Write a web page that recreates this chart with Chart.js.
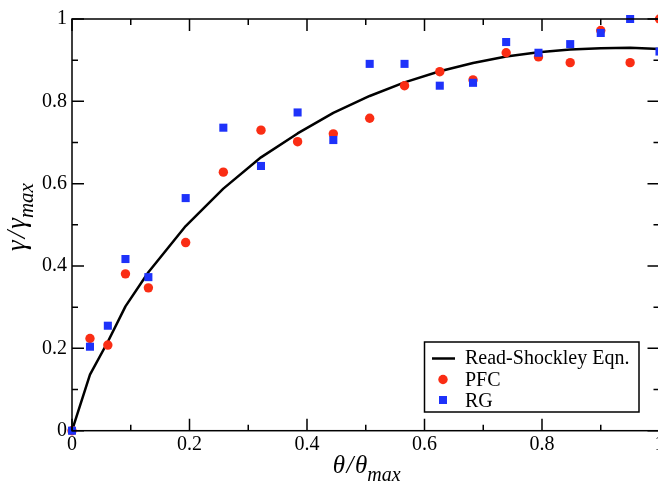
<!DOCTYPE html>
<html>
<head>
<meta charset="utf-8">
<script src="https://cdn.jsdelivr.net/npm/chart.js@4/dist/chart.umd.min.js"></script>
<style>
  html, body { margin: 0; padding: 0; background: #fff; overflow: hidden; }
  #wrap { width: 680px; height: 483px; }
</style>
</head>
<body>
<div id="wrap"><canvas id="chart" width="680" height="483"></canvas></div>
<script>
const thetaPFC = [0, 0.0306, 0.061, 0.091, 0.13, 0.1935, 0.2576, 0.3217, 0.384, 0.4448, 0.5067, 0.566, 0.626, 0.6826, 0.739, 0.794, 0.848, 0.9, 0.95, 1.0];
const gammaPFC = [0, 0.224, 0.208, 0.381, 0.347, 0.457, 0.628, 0.730, 0.702, 0.721, 0.759, 0.838, 0.872, 0.852, 0.918, 0.908, 0.894, 0.972, 0.894, 1.0];

const thetaRG = [0, 0.0306, 0.061, 0.091, 0.13, 0.1935, 0.2576, 0.3217, 0.384, 0.4448, 0.5067, 0.566, 0.626, 0.6826, 0.739, 0.794, 0.848, 0.9, 0.95, 1.0];
const gammaRG = [0, 0.204, 0.255, 0.417, 0.373, 0.565, 0.736, 0.643, 0.773, 0.706, 0.891, 0.891, 0.838, 0.845, 0.944, 0.918, 0.939, 0.966, 1.0, 0.921];

// Read-Shockley curve
const thetaRS = [0, 0.0306, 0.061, 0.091, 0.13, 0.1935, 0.2576, 0.3217, 0.384, 0.4448, 0.5067, 0.566, 0.626, 0.6826, 0.739, 0.794, 0.848, 0.9, 0.95, 1.0];
const gammaRS = [0, 0.136, 0.216, 0.302, 0.385, 0.497, 0.588, 0.664, 0.722, 0.772, 0.813, 0.846, 0.873, 0.893, 0.909, 0.919, 0.926, 0.929, 0.930, 0.927];

const majorTicks = [0, 0.2, 0.4, 0.6, 0.8, 1];
const minorTicks = [0.1, 0.3, 0.5, 0.7, 0.9];
const legendLabels = ['Read-Shockley Eqn.', 'PFC', 'RG'];

const RED = '#fa2d14';
const BLUE = '#1e32fa';
const SERIF = '"Liberation Serif", "Times New Roman", serif';

const toXY = (xs, ys) => xs.map((x, i) => ({ x: x, y: ys[i] }));

// frame box + inward ticks on all four sides
const frameTicks = {
    id: 'frameTicks',
    afterDatasetsDraw(chart) {
        const { ctx, chartArea: a, scales: { x, y } } = chart;
        ctx.save();
        ctx.strokeStyle = '#000';
        ctx.lineWidth = 1.5;
        ctx.strokeRect(a.left, a.top, a.right - a.left, a.bottom - a.top);
        const tick = (vals, len) => {
            ctx.beginPath();
            vals.forEach(v => {
                const px = x.getPixelForValue(v);
                ctx.moveTo(px, a.bottom); ctx.lineTo(px, a.bottom - len);
                ctx.moveTo(px, a.top); ctx.lineTo(px, a.top + len);
                const py = y.getPixelForValue(v);
                ctx.moveTo(a.left, py); ctx.lineTo(a.left + len, py);
                ctx.moveTo(a.right, py); ctx.lineTo(a.right - len, py);
            });
            ctx.stroke();
        };
        tick(majorTicks, 12);
        tick(minorTicks, 6);
        ctx.restore();
    }
};

// "g / g" + subscript "max", centred on the current origin
function drawRatio(ctx, g, sub, mainFont, subFont, gap, subDrop) {
    ctx.font = mainFont;
    const wg = ctx.measureText(g).width;
    const ws = ctx.measureText('/').width;
    ctx.font = subFont;
    const wsub = ctx.measureText(sub).width;
    const total = wg * 2 + ws + gap * 2 + wsub;
    let x0 = -total / 2;
    ctx.font = mainFont;
    ctx.fillText(g, x0, 0); x0 += wg + gap;
    ctx.fillText('/', x0, 0); x0 += ws + gap;
    ctx.fillText(g, x0, 0); x0 += wg;
    ctx.font = subFont;
    ctx.fillText(sub, x0, subDrop);
}

const axisTitles = {
    id: 'axisTitles',
    afterDraw(chart) {
        const { ctx, chartArea: a } = chart;
        ctx.save();
        ctx.fillStyle = '#000';
        ctx.textBaseline = 'alphabetic';
        ctx.textAlign = 'left';
        ctx.translate((a.left + a.right) / 2 + 1, 473);
        drawRatio(ctx, 'θ', 'max', 'italic 25px ' + SERIF, 'italic 20px ' + SERIF, 1.5, 8);
        ctx.restore();

        ctx.save();
        ctx.fillStyle = '#000';
        ctx.textBaseline = 'alphabetic';
        ctx.textAlign = 'left';
        ctx.translate(25, 217);
        ctx.rotate(-Math.PI / 2);
        drawRatio(ctx, 'γ', 'max', 'italic 27px ' + SERIF, 'italic 21px ' + SERIF, 2, 8);
        ctx.restore();
    }
};

// boxed legend inside the plot, lower right
const boxLegend = {
    id: 'boxLegend',
    afterDraw(chart) {
        const { ctx } = chart;
        const bx = 424.5, by = 342, bw = 214.5, bh = 70;
        ctx.save();
        ctx.fillStyle = '#fff';
        ctx.fillRect(bx, by, bw, bh);
        ctx.strokeStyle = '#000';
        ctx.lineWidth = 1.5;
        ctx.strokeRect(bx, by, bw, bh);

        ctx.beginPath();
        ctx.lineWidth = 2.5;
        ctx.moveTo(432, 358.5); ctx.lineTo(455, 358.5);
        ctx.stroke();

        ctx.fillStyle = RED;
        ctx.beginPath();
        ctx.arc(443, 379.5, 4.7, 0, Math.PI * 2);
        ctx.fill();

        ctx.fillStyle = BLUE;
        ctx.fillRect(439, 396, 8, 8);

        ctx.fillStyle = '#000';
        ctx.font = '20px ' + SERIF;
        ctx.textBaseline = 'alphabetic';
        ctx.textAlign = 'left';
        ctx.fillText(legendLabels[0], 465, 364);
        ctx.fillText(legendLabels[1], 465, 386);
        ctx.fillText(legendLabels[2], 465, 407);
        ctx.restore();
    }
};

const tickFont = { family: SERIF, size: 20 };
const fmt = v => (Math.abs(v) < 1e-9 ? '0' : String(Math.round(v * 10) / 10));

new Chart(document.getElementById('chart'), {
    type: 'scatter',
    data: {
        datasets: [
            {
                label: legendLabels[2],
                data: toXY(thetaRG, gammaRG),
                pointStyle: 'rect',
                pointRadius: 5.7,
                pointHoverRadius: 5.7,
                backgroundColor: BLUE,
                borderWidth: 0,
                clip: false
            },
            {
                label: legendLabels[1],
                data: toXY(thetaPFC, gammaPFC),
                pointStyle: 'circle',
                pointRadius: 4.7,
                pointHoverRadius: 4.7,
                backgroundColor: RED,
                borderWidth: 0,
                clip: false
            },
            {
                type: 'line',
                label: legendLabels[0],
                data: toXY(thetaRS, gammaRS),
                borderColor: '#000',
                borderWidth: 2.5,
                borderJoinStyle: 'round',
                pointRadius: 0,
                fill: false,
                tension: 0,
                clip: false
            }
        ]
    },
    options: {
        responsive: false,
        animation: false,
        devicePixelRatio: 1,
        layout: { padding: { top: 19, right: 20.5, left: 0, bottom: 0 } },
        plugins: { legend: { display: false }, tooltip: { enabled: false } },
        scales: {
            x: {
                type: 'linear', min: 0, max: 1,
                afterFit: s => { s.height = 52.3; },
                grid: { display: false, drawTicks: false },
                border: { display: false },
                ticks: { stepSize: 0.2, padding: 2, color: '#000', font: tickFont, maxRotation: 0, callback: fmt }
            },
            y: {
                type: 'linear', min: 0, max: 1,
                afterFit: s => { s.width = 72; },
                grid: { display: false, drawTicks: false },
                border: { display: false },
                ticks: { stepSize: 0.2, padding: 5, color: '#000', font: tickFont, callback: fmt }
            }
        }
    },
    plugins: [frameTicks, axisTitles, boxLegend]
});
</script>
</body>
</html>
